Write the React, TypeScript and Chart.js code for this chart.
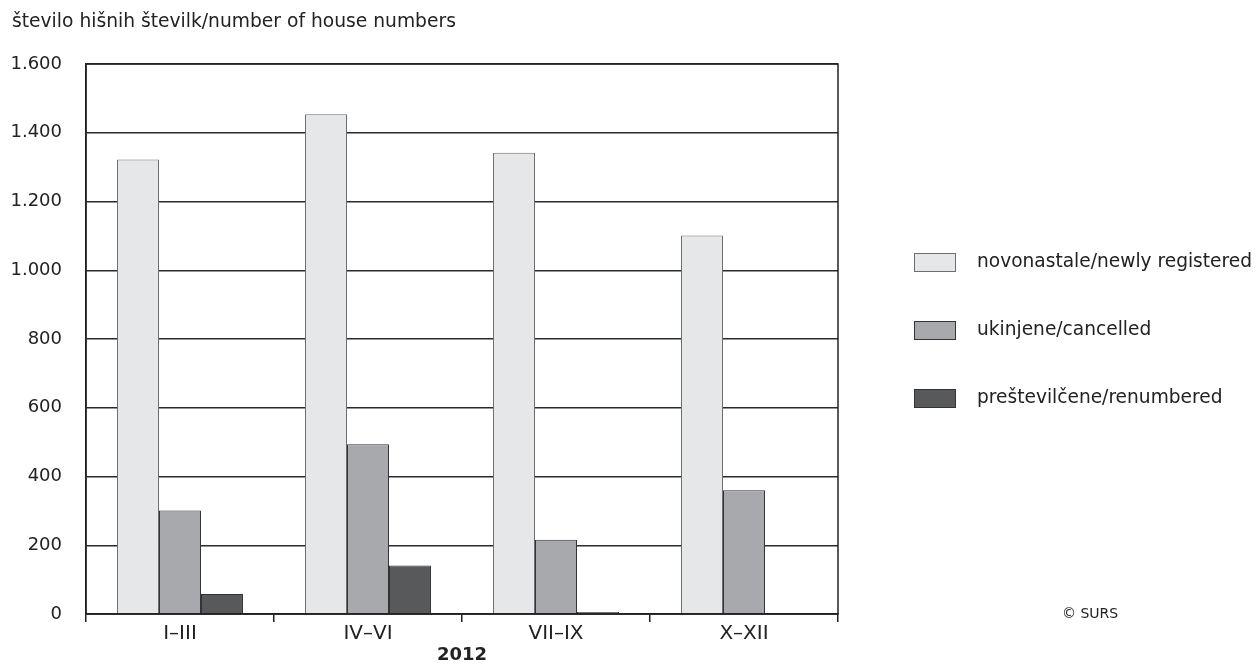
import React, { useEffect, useRef } from "react";
import { Chart, registerables } from "chart.js";

Chart.register(...registerables);

const categories = ["I–III", "IV–VI", "VII–IX", "X–XII"];
const newlyRegistered = [1322, 1454, 1342, 1101];
const cancelled = [301, 494, 216, 360];
const renumbered = [58, 141, 6, 0];
const seriesLabels = [
  "novonastale/newly registered",
  "ukinjene/cancelled",
  "preštevilčene/renumbered",
];
const yTicks = [0, 200, 400, 600, 800, 1000, 1200, 1400, 1600];
const yTitle = "število hišnih številk/number of house numbers";
const xTitle = "2012";
const source = "© SURS";

const FILL = ["#e6e7e8", "#a7a9ac", "#58595b"];
const STROKE = ["#6d6e70", "#333333", "#333333"];
const FONT = "DejaVu Sans, sans-serif";

const fmt = (v: number) => String(v).replace(/\B(?=(\d{3})+(?!\d))/g, ".");

const extras = {
  id: "extras",
  afterDraw(chart: any) {
    const ctx = chart.ctx;
    const a = chart.chartArea;
    ctx.save();
    // frame
    ctx.strokeStyle = "#222";
    ctx.lineWidth = 1.5;
    ctx.strokeRect(a.left, a.top, a.right - a.left, a.bottom - a.top);
    // title
    ctx.fillStyle = "#222";
    ctx.font = `18.7px ${FONT}`;
    ctx.textAlign = "left";
    ctx.textBaseline = "middle";
    ctx.fillText(yTitle, 12, 22);
    // legend
    ctx.font = `18.6px ${FONT}`;
    const ys = [262, 330, 398];
    seriesLabels.forEach((lab, i) => {
      ctx.fillStyle = FILL[i];
      ctx.fillRect(914, ys[i] - 9, 42, 19);
      ctx.strokeStyle = STROKE[i];
      ctx.lineWidth = 1;
      ctx.strokeRect(914.5, ys[i] - 8.5, 41, 18);
      ctx.fillStyle = "#222";
      ctx.fillText(lab, 977, ys[i]);
    });
    // source
    ctx.font = `14px ${FONT}`;
    ctx.fillText(source, 1062, 614);
    ctx.restore();
  },
};

export default function App() {
  const ref = useRef<HTMLCanvasElement>(null);
  useEffect(() => {
    const datasets = [newlyRegistered, cancelled, renumbered].map((d, i) => ({
      label: seriesLabels[i],
      data: d,
      backgroundColor: FILL[i],
      borderColor: STROKE[i],
      borderWidth: 1,
      barPercentage: 1,
      categoryPercentage: 0.67,
    }));
    const chart = new Chart(ref.current!, {
      type: "bar",
      data: { labels: categories, datasets },
      plugins: [extras],
      options: {
        animation: false,
        responsive: false,
        devicePixelRatio: 1,
        layout: { padding: { left: 0, right: 421, top: 64, bottom: 0 } },
        plugins: { legend: { display: false }, tooltip: { enabled: false } },
        scales: {
          x: {
            grid: {
              offset: true,
              drawOnChartArea: false,
              tickLength: 8,
              color: "#222",
              lineWidth: 1.5,
            },
            border: { color: "#222", width: 1.5 },
            ticks: { color: "#222", font: { family: FONT, size: 20 }, padding: 0 },
            title: {
              display: true,
              text: xTitle,
              color: "#222",
              font: { family: FONT, size: 18, weight: "bold" },
              padding: { top: 0, bottom: 0 },
            },
            afterFit: (s: any) => {
              s.height = 52;
            },
          },
          y: {
            min: 0,
            max: 1600,
            afterBuildTicks: (s: any) => {
              s.ticks = yTicks.map((v) => ({ value: v }));
            },
            grid: { drawTicks: false, color: "#2b2b2b", lineWidth: 1.5 },
            border: { color: "#222", width: 1.5 },
            ticks: {
              color: "#222",
              font: { family: FONT, size: 18 },
              padding: 24,
              callback: (v: any) => fmt(Number(v)),
            },
            afterFit: (s: any) => {
              s.width = 86;
            },
          },
        },
      },
    });
    return () => chart.destroy();
  }, []);
  return (
    <div style={{ position: "fixed", left: 0, top: 0, width: 1259, height: 666, background: "#fff" }}>
      <canvas ref={ref} width={1259} height={666} style={{ display: "block" }} />
    </div>
  );
}
